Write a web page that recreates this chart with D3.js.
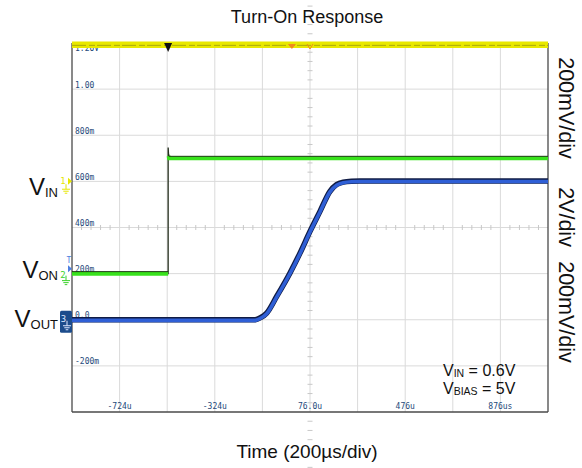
<!DOCTYPE html>
<html><head><meta charset="utf-8">
<script src="https://cdn.jsdelivr.net/npm/d3@7"></script>
<style>body{margin:0;background:#fff} svg{display:block}</style>
</head><body><svg id="chart" width="582" height="468"></svg>
<script>
// Horizontal axis (µs) and on-screen grid labels
const timeTickValues = [-724, -324, 76, 476, 876];
const timeTickLabels = ["-724u", "-324u", "76.0u", "476u", "876us"];
const voltTickValues = [1.2, 1.0, 0.8, 0.6, 0.4, 0.2, 0.0, -0.2];
const voltTickLabels = ["1.20V", "1.00", "800m", "600m", "400m", "200m", "0.0", "-200m"];

// Channel 1: V_IN (V)
const vinTime = [-924, 1076];
const vinValue = [0.6, 0.6];
// Channel 2: V_ON (V)
const vonTime = [-924, -520, -520, -518, -516, 1076];
const vonValue = [0, 0, 5.47, 5.1, 5.0, 5.0];
// Channel 3: V_OUT (V)
const voutTime = [-924, -160, -148, -130, -106, -64, -8, 34, 76, 118, 160, 188, 216, 250, 286, 1076];
const voutValue = [0, 0, 0.002, 0.01, 0.029, 0.101, 0.203, 0.289, 0.383, 0.47, 0.557, 0.586, 0.597, 0.601, 0.602, 0.602];

// Vertical scale per channel (V/div) and ground position (div from centre)
const ch1 = {scale: 0.2, offset: 0.96};
const ch2 = {scale: 2, offset: -1};
const ch3 = {scale: 0.2, offset: -2};
const toDiv = (ch, v) => ch.offset + v / ch.scale;

const svg = d3.select("#chart");
const L = 72, R = 548, T = 43, B = 412;
const x = d3.scaleLinear().domain([-924, 1076]).range([L, R]);
const y = d3.scaleLinear().domain([-4, 4]).range([B, T]);
const sans = "Liberation Sans, Arial, sans-serif";
const mono = "DejaVu Sans Mono, monospace";

// Graticule
const g = svg.append("g");
const xDivs = d3.range(1, 10).map(i => -924 + i * 200);
const yDivs = d3.range(-3, 4);
g.selectAll(".vg").data(xDivs).join("line")
  .attr("x1", d => x(d)).attr("x2", d => x(d)).attr("y1", T).attr("y2", B)
  .attr("stroke", "#dadada").attr("stroke-width", 1);
g.selectAll(".hg").data(yDivs).join("line")
  .attr("y1", d => y(d)).attr("y2", d => y(d)).attr("x1", L).attr("x2", R)
  .attr("stroke", "#dadada").attr("stroke-width", 1);
// minor ticks on the centre lines
const xMinor = d3.range(1, 50).map(i => -924 + i * 40).filter(t => (t + 924) % 200 !== 0);
g.selectAll(".xm").data(xMinor).join("line")
  .attr("x1", d => x(d)).attr("x2", d => x(d)).attr("y1", y(0) - 2.5).attr("y2", y(0) + 2.5)
  .attr("stroke", "#c8c8c8");
const yMinor = d3.range(-39, 40).map(i => i / 5).filter(v => Math.abs(v - Math.round(v)) > 1e-6);
g.selectAll(".ym").data(yMinor).join("line")
  .attr("y1", d => y(d)).attr("y2", d => y(d)).attr("x1", x(76) - 2.5).attr("x2", x(76) + 2.5)
  .attr("stroke", "#c8c8c8");

// Frame
g.append("line").attr("x1", L).attr("x2", R).attr("y1", T).attr("y2", T).attr("stroke", "#8a8a8a");
g.append("line").attr("x1", L).attr("x2", L).attr("y1", T).attr("y2", B).attr("stroke", "#4a4a4a").attr("stroke-width", 1.3);
g.append("line").attr("x1", R).attr("x2", R).attr("y1", T).attr("y2", B).attr("stroke", "#4a4a4a").attr("stroke-width", 1.3);
g.append("line").attr("x1", L).attr("x2", R).attr("y1", B).attr("y2", B).attr("stroke", "#4a4a4a").attr("stroke-width", 1.3);

// Grid labels
g.selectAll(".vl").data(voltTickValues).join("text")
  .attr("x", L + 3)
  .attr("y", (d, i) => i === 0 ? y(toDiv(ch3, d)) + 8 : y(toDiv(ch3, d)) - 1.5)
  .attr("font-family", mono).attr("font-size", 8).attr("fill", "#24497a")
  .text((d, i) => voltTickLabels[i]);
g.selectAll(".tl").data(timeTickValues).join("text")
  .attr("x", d => x(d)).attr("y", B - 3)
  .attr("text-anchor", "middle")
  .attr("font-family", mono).attr("font-size", 8).attr("fill", "#24497a")
  .text((d, i) => timeTickLabels[i]);

const line = d3.line().x(d => x(d.t)).y(d => y(d.div));
const series = (times, values, ch) => times.map((t, i) => ({t, v: values[i], div: toDiv(ch, values[i])}));

// V_IN trace
const vin = series(vinTime, vinValue, ch1);
svg.append("path").datum(vin).attr("d", line).attr("fill", "none")
  .attr("stroke", "#e8e800").attr("stroke-width", 6.5);
svg.append("path").datum(vin).attr("d", line).attr("fill", "none")
  .attr("stroke", "#8f8f10").attr("stroke-width", 1).attr("stroke-dasharray", "14 3 6 2")
  .attr("transform", "translate(0,0.5)").attr("opacity", 0.7);

// V_ON trace
const von = series(vonTime, vonValue, ch2);
svg.append("path").datum(von).attr("d", line).attr("fill", "none")
  .attr("stroke", "#26301f").attr("stroke-width", 1.3);
const vonBand = d3.line().defined(d => d.v < 5.3).x(d => x(d.t)).y(d => y(d.div));
svg.append("path").datum(von).attr("d", vonBand).attr("fill", "none")
  .attr("stroke", "#38e21c").attr("stroke-width", 4);
svg.append("path").datum(von).attr("d", vonBand).attr("fill", "none")
  .attr("stroke", "#1c3a12").attr("stroke-width", 1).attr("transform", "translate(0,-2)");

// V_OUT trace
const vout = series(voutTime, voutValue, ch3);
const smooth = d3.line().curve(d3.curveMonotoneX).x(d => x(d.t)).y(d => y(d.div));
svg.append("path").datum(vout).attr("d", smooth).attr("fill", "none")
  .attr("stroke", "#101c45").attr("stroke-width", 5.5);
svg.append("path").datum(vout).attr("d", smooth).attr("fill", "none")
  .attr("stroke", "#2f5fd6").attr("stroke-width", 3.6).attr("transform", "translate(0,0.6)");

// Trigger / reference markers along the top
const trig = x(-520);
svg.append("path").attr("d", `M${trig - 4},${T} L${trig + 4},${T} L${trig},${T + 9} Z`).attr("fill", "#111");
const ref0 = x(0);
svg.append("path").attr("d", `M${ref0 - 4},${T + 1} L${ref0 + 4},${T + 1} L${ref0},${T + 6} Z`).attr("fill", "#f08a1c");
const ctr = x(76);
svg.append("path").attr("d", `M${ctr - 3},${T + 1} L${ctr},${T + 6} L${ctr + 3},${T + 1}`).attr("fill", "none").attr("stroke", "#f08a1c").attr("stroke-width", 1);

// Channel ground markers at the left edge
function groundSymbol(cx, top, color) {
  const s = svg.append("g").attr("stroke", color).attr("stroke-width", 1);
  s.append("line").attr("x1", cx).attr("x2", cx).attr("y1", top).attr("y2", top + 5);
  s.append("line").attr("x1", cx - 4).attr("x2", cx + 4).attr("y1", top + 5).attr("y2", top + 5);
  s.append("line").attr("x1", cx - 2.7).attr("x2", cx + 2.7).attr("y1", top + 7).attr("y2", top + 7);
  s.append("line").attr("x1", cx - 1.3).attr("x2", cx + 1.3).attr("y1", top + 9).attr("y2", top + 9);
}
function arrow(yy, color) {
  svg.append("path").attr("d", `M${L - 4},${yy - 3.5} L${L},${yy} L${L - 4},${yy + 3.5} Z`).attr("fill", color);
}
const g1 = y(toDiv(ch1, 0));
svg.append("text").attr("x", 63).attr("y", g1 + 1).attr("font-family", mono).attr("font-size", 9)
  .attr("text-anchor", "middle").attr("fill", "#e6e600").text("1");
arrow(g1 - 2, "#e6e600");
groundSymbol(66, g1 + 1, "#e6e600");

const g2 = y(toDiv(ch2, 0));
svg.append("text").attr("x", 63).attr("y", g2 + 4).attr("font-family", mono).attr("font-size", 9)
  .attr("text-anchor", "middle").attr("fill", "#3ad22a").text("2");
arrow(g2 - 5, "#4f7fe0");
groundSymbol(66, g2 + 2, "#3ad22a");
svg.append("text").attr("x", 69).attr("y", g2 - 11).attr("font-family", mono).attr("font-size", 8)
  .attr("text-anchor", "middle").attr("fill", "#4f7fe0").text("T");

const g3 = y(toDiv(ch3, 0));
svg.append("rect").attr("x", 60).attr("y", g3 - 9).attr("width", 12).attr("height", 22).attr("rx", 1.5)
  .attr("fill", "#1c4c8c");
svg.append("text").attr("x", 63.5).attr("y", g3 + 2).attr("font-family", mono).attr("font-size", 9)
  .attr("text-anchor", "middle").attr("fill", "#dfe8ff").text("3");
groundSymbol(67, g3 + 1, "#dfe8ff");

// Channel names
function subLabel(xx, yy, main, sub, size, subSize, anchor) {
  const t = svg.append("text").attr("x", xx).attr("y", yy).attr("font-family", sans)
    .attr("font-size", size).attr("fill", "#111").attr("text-anchor", anchor);
  t.append("tspan").text(main);
  t.append("tspan").attr("font-size", subSize).attr("dy", 2).text(sub);
  return t;
}
subLabel(58, 195, "V", "IN", 24, 13, "end");
subLabel(58, 278, "V", "ON", 24, 13, "end");
subLabel(58, 327, "V", "OUT", 24, 13, "end");

// Conditions
function condLabel(yy, sub, rest) {
  const t = svg.append("text").attr("x", 443).attr("y", yy).attr("font-family", sans)
    .attr("font-size", 16).attr("fill", "#111");
  t.append("tspan").text("V");
  t.append("tspan").attr("font-size", 10.5).attr("dy", 1).text(sub);
  t.append("tspan").attr("dy", -1).text(rest);
}
condLabel(376, "IN", " = 0.6V");
condLabel(394, "BIAS", " = 5V");

// Vertical scale labels on the right
const scaleLabels = [{c: 108, s: "200mV/div"}, {c: 217, s: "2V/div"}, {c: 312, s: "200mV/div"}];
svg.selectAll(".sl").data(scaleLabels).join("text")
  .attr("transform", d => `translate(559,${d.c}) rotate(90)`)
  .attr("text-anchor", "middle").attr("font-family", sans).attr("font-size", 21.5).attr("fill", "#111")
  .text(d => d.s);

// Title and horizontal label
svg.append("text").attr("x", 307).attr("y", 23).attr("text-anchor", "middle")
  .attr("font-family", sans).attr("font-size", 18).attr("fill", "#111").text("Turn-On Response");
svg.append("text").attr("x", 307).attr("y", 458).attr("text-anchor", "middle")
  .attr("font-family", sans).attr("font-size", 19).attr("fill", "#111").text("Time (200µs/div)");
</script></body></html>
